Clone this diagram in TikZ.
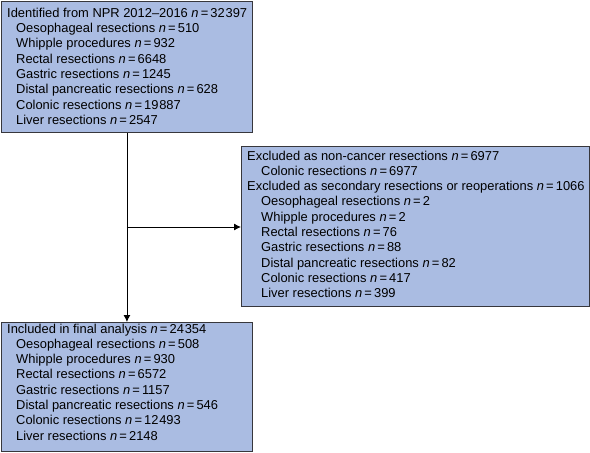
\documentclass[tikz,border=0pt]{standalone}
\usepackage{fontspec}
\setmainfont{Liberation Sans}
\usetikzlibrary{arrows.meta}
\definecolor{boxfill}{RGB}{170,188,226}
\definecolor{boxline}{RGB}{55,55,60}
\newcommand{\nn}[1]{\textit{n}\,=\,#1}
\newcommand{\ind}{\hspace*{9pt}}
\newcommand{\indb}{\hspace*{14pt}}
\tikzset{
  box/.style={draw=boxline, line width=0.9pt, fill=boxfill, anchor=north west, inner sep=0pt},
  txt/.style={anchor=north west, inner sep=0pt, align=left,
    font={\fontsize{12.9}{15.3}\selectfont}},
  conn/.style={draw=black, line width=0.9pt},
  tip/.style={-{Latex[length=7pt,width=7pt]}}
}
\begin{document}
\begin{tikzpicture}[x=1pt,y=-1pt]
\path[use as bounding box, fill=white] (0,0) rectangle (590,453);
\node[box, minimum width=251pt, minimum height=131pt] (b1) at (1,1) {};
\node[box, minimum width=348pt, minimum height=160pt] (b2) at (241,146) {};
\node[box, minimum width=251pt, minimum height=129pt] (b3) at (1,322) {};
\node[txt] (t1) at (7,7.8) {%
Identified from NPR 2012--2016 \nn{32\kern0.8pt397}\\
\ind Oesophageal resections \nn{510}\\
\ind Whipple procedures \nn{932}\\
\ind Rectal resections \nn{6648}\\
\ind Gastric resections \nn{1245}\\
\ind Distal pancreatic resections \nn{628}\\
\ind Colonic resections \nn{19\kern0.8pt887}\\
\ind Liver resections \nn{2547}};
\node[txt] (t2) at (247,150.5) {%
Excluded as non-cancer resections \nn{6977}\\
\indb Colonic resections \nn{6977}\\
Excluded as secondary resections or reoperations \nn{1066}\\
\indb Oesophageal resections \nn{2}\\
\indb Whipple procedures \nn{2}\\
\indb Rectal resections \nn{76}\\
\indb Gastric resections \nn{88}\\
\indb Distal pancreatic resections \nn{82}\\
\indb Colonic resections \nn{417}\\
\indb Liver resections \nn{399}};
\node[txt] (t3) at (7,323.5) {%
Included in final analysis \nn{24\kern0.8pt354}\\
\ind Oesophageal resections \nn{508}\\
\ind Whipple procedures \nn{930}\\
\ind Rectal resections \nn{6572}\\
\ind Gastric resections \nn{1157}\\
\ind Distal pancreatic resections \nn{546}\\
\ind Colonic resections \nn{12\kern0.8pt493}\\
\ind Liver resections \nn{2148}};
\coordinate (j) at (b1.south |- 0,227);
\draw[conn, tip] (b1.south) -- (b1.south |- b3.north);
\draw[conn, tip] (j) -- (j -| b2.west);
\end{tikzpicture}
\end{document}
